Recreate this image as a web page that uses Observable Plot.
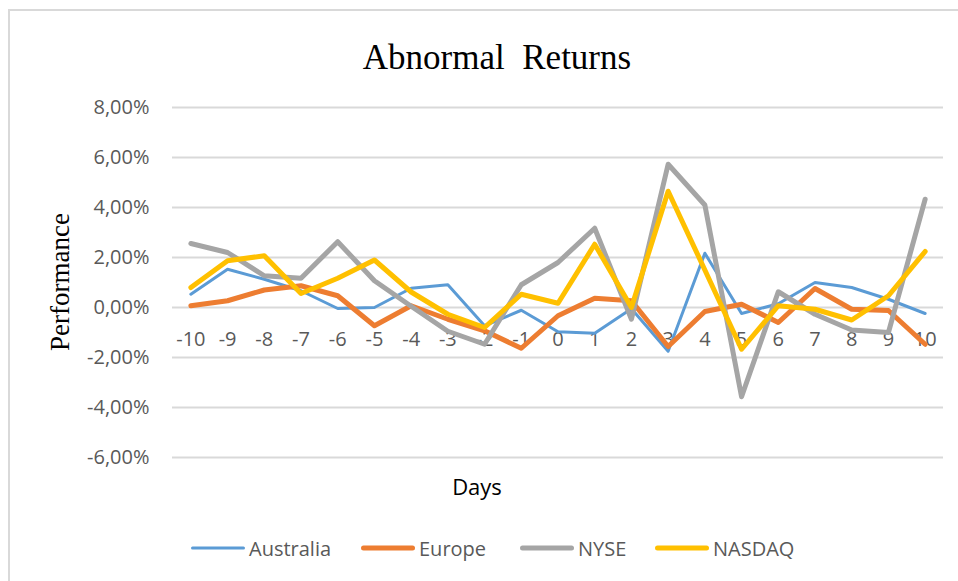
<!DOCTYPE html>
<html>
<head>
<meta charset="utf-8">
<script src="https://cdn.jsdelivr.net/npm/d3@7"></script>
<script src="https://cdn.jsdelivr.net/npm/@observablehq/plot@0.6"></script>
<style>
  html, body { margin: 0; padding: 0; background: #fff; }
  #wrap { position: relative; width: 958px; height: 581px; overflow: hidden; background: #fff; }
  #wrap svg { position: absolute; left: 0; top: 0; }
  .border { position: absolute; left: 8px; top: 9px; right: -5px; bottom: -5px; border-left: 2px solid #d9d9d9; border-top: 2px solid #d9d9d9; }
  .title { position: absolute; left: 0; width: 994px; top: 36px; text-align: center; font-family: "Liberation Serif", serif; font-size: 35px; color: #000; white-space: pre; line-height: 44px; }
  .ytitle { position: absolute; left: 60px; top: 282px; transform: translate(-50%, -50%) rotate(-90deg); font-family: "Liberation Serif", serif; font-size: 27px; color: #000; white-space: nowrap; }
  .xtitle { position: absolute; left: 477px; top: 486px; transform: translate(-50%, -50%); font-family: "Open Sans", sans-serif; font-size: 22px; color: #000; }
  .legend { position: absolute; top: 548px; transform: translateY(-50%); font-family: "Open Sans", sans-serif; font-size: 20px; color: #595959; display: flex; align-items: center; }
  .legend span.sw { display: inline-block; width: 54px; border-radius: 3px; margin-right: 4px; }
</style>
</head>
<body>
<div id="wrap">
  <div class="border"></div>
</div>
<script>
const days = [-10, -9, -8, -7, -6, -5, -4, -3, -2, -1, 0, 1, 2, 3, 4, 5, 6, 7, 8, 9, 10];
const seriesNames = ["Australia", "Europe", "NYSE", "NASDAQ"];
const australia = [0.53, 1.53, 1.13, 0.67, -0.04, 0.0, 0.77, 0.91, -0.73, -0.11, -0.97, -1.03, -0.05, -1.75, 2.17, -0.24, 0.15, 1.0, 0.8, 0.33, -0.24];
const europe = [0.07, 0.27, 0.7, 0.87, 0.47, -0.73, 0.07, -0.47, -0.93, -1.63, -0.33, 0.37, 0.27, -1.56, -0.16, 0.13, -0.6, 0.76, -0.07, -0.12, -1.47];
const nyse = [2.56, 2.2, 1.27, 1.17, 2.63, 1.07, 0.05, -0.95, -1.47, 0.91, 1.8, 3.17, -0.47, 5.73, 4.1, -3.57, 0.63, -0.27, -0.9, -1.0, 4.33];
const nasdaq = [0.8, 1.87, 2.07, 0.56, 1.17, 1.9, 0.62, -0.27, -0.8, 0.53, 0.17, 2.53, 0.0, 4.65, 1.5, -1.67, 0.07, -0.07, -0.5, 0.47, 2.24];
const yTicks = [-6, -4, -2, 0, 2, 4, 6, 8];

const colors = {Australia: "#5b9bd5", Europe: "#ed7d31", NYSE: "#a5a5a5", NASDAQ: "#ffc000"};
const widths = {Australia: 3, Europe: 5, NYSE: 5, NASDAQ: 5};
const valuesBySeries = {Australia: australia, Europe: europe, NYSE: nyse, NASDAQ: nasdaq};

const fmt = d => d.toFixed(2).replace(".", ",") + "%";

const lineMarks = seriesNames.map(name => {
  const rows = days.map((d, i) => ({day: d, value: valuesBySeries[name][i]}));
  return Plot.line(rows, {x: "day", y: "value", stroke: colors[name], strokeWidth: widths[name], strokeLinejoin: "round", strokeLinecap: "round"});
});

const chart = Plot.plot({
  width: 958,
  height: 581,
  marginLeft: 172,
  marginRight: 15,
  marginTop: 107,
  marginBottom: 124,
  style: {background: "transparent", fontFamily: "'Open Sans', sans-serif"},
  x: {type: "point", domain: days, padding: 0.5, round: false, axis: null},
  y: {domain: [-6, 8], axis: null},
  marks: [
    Plot.gridY(yTicks, {stroke: "#d9d9d9", strokeOpacity: 1, strokeWidth: 2}),
    Plot.axisY(yTicks, {tickSize: 0, tickPadding: 23, tickFormat: fmt, fontSize: 20, fill: "#595959", label: null}),
    Plot.text(days, {x: d => d, y: () => 0, dy: 32, text: d => String(d), fontSize: 20, fill: "#595959", textAnchor: "middle", lineAnchor: "middle"}),
    ...lineMarks
  ]
});
const wrap = document.getElementById("wrap");
wrap.appendChild(chart);

const title = document.createElement("div");
title.className = "title";
title.textContent = "Abnormal  Returns";
wrap.appendChild(title);

const yt = document.createElement("div");
yt.className = "ytitle";
yt.textContent = "Performance";
wrap.appendChild(yt);

const xt = document.createElement("div");
xt.className = "xtitle";
xt.textContent = "Days";
wrap.appendChild(xt);

const legendX = {Australia: 191, Europe: 361, NYSE: 520, NASDAQ: 655};
seriesNames.forEach(name => {
  const item = document.createElement("div");
  item.className = "legend";
  item.style.left = legendX[name] + "px";
  const sw = document.createElement("span");
  sw.className = "sw";
  sw.style.background = colors[name];
  sw.style.height = (name === "Australia" ? 3 : 5) + "px";
  item.appendChild(sw);
  const t = document.createElement("span");
  t.textContent = name;
  item.appendChild(t);
  wrap.appendChild(item);
});
</script>
</body>
</html>
